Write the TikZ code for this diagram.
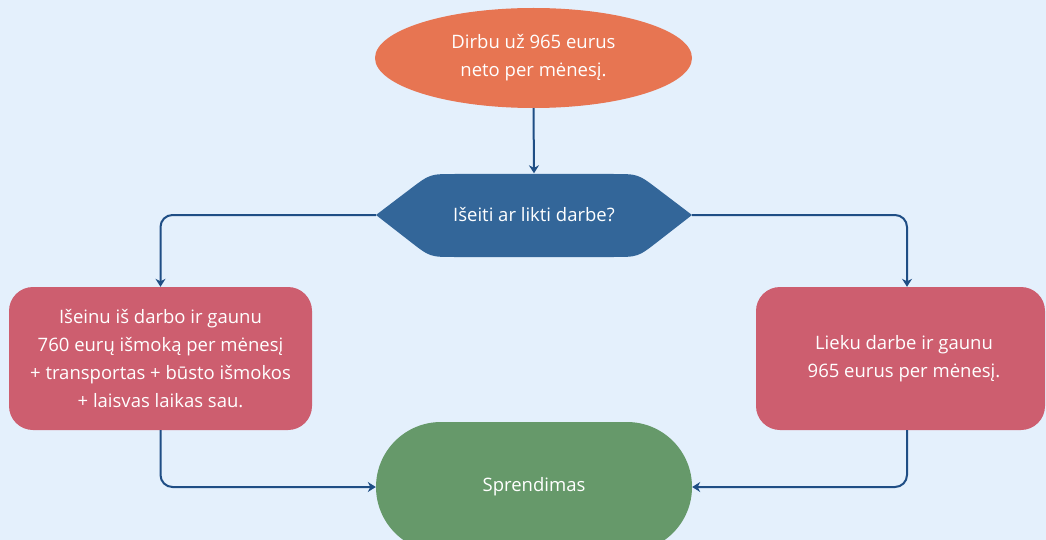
\documentclass[tikz,border=0pt]{standalone}
\usepackage{fontspec}
\setmainfont{Open Sans}
\usetikzlibrary{shapes.geometric,arrows.meta}
\definecolor{bg}{HTML}{E4F0FC}
\definecolor{orng}{HTML}{E77552}
\definecolor{hexblue}{HTML}{336699}
\definecolor{rose}{HTML}{CD5E6F}
\definecolor{grn}{HTML}{66996A}
\definecolor{linec}{HTML}{1F4E85}
\begin{document}
\begin{tikzpicture}[x=1pt,y=-1pt,
  txt/.style={text=white,font=\fontsize{18.5}{28}\selectfont,align=center},
  conn/.style={draw=linec,line width=2pt,rounded corners=12pt,-{Stealth[length=8pt,width=10pt]}},
  boxstyle/.style={txt,fill=rose,rounded corners=24pt,inner sep=0pt}]
\useasboundingbox (0,0) rectangle (1046,540);
\fill[bg] (0,0) rectangle (1046,540);
% nodes
\node[txt,ellipse,fill=orng,minimum width=317pt,minimum height=100pt,inner sep=0pt] (top) at (533.5,58) {Dirbu už 965 eurus\\neto per mėnesį.};
\fill[hexblue] (376,215) -- (410.1,189.1) .. controls (430,174) .. (455,174) -- (613,174) .. controls (638,174) .. (657.9,189.1) -- (692,215) -- (657.8,241.6) .. controls (638,257) .. (613,257) -- (455,257) .. controls (430,257) .. (410.2,241.6) -- cycle;
\node[txt,minimum width=316pt,minimum height=83pt,inner sep=0pt] (hex) at (534,215) {Išeiti ar likti darbe?};
\node[boxstyle,minimum width=303pt,minimum height=143pt] (left) at (160.5,358.5) {Išeinu iš darbo ir gaunu\\760 eurų išmoką per mėnesį\\+ transportas + būsto išmokos\\+ laisvas laikas sau.};
\node[boxstyle,minimum width=289pt,minimum height=143pt] (right) at (900.5,358.5) {\hspace*{7pt}Lieku darbe ir gaunu\\\hspace*{7pt}965 eurus per mėnesį.};
\node[txt,fill=grn,rounded corners=65pt,minimum width=316pt,minimum height=130pt,inner sep=0pt] (dec) at (534,487) {Sprendimas};
% connectors
\draw[conn] (top.south) -- (hex.north);
\draw[conn] (hex.west) -| (left.north);
\draw[conn] (hex.east) -| ([xshift=6.5pt]right.north);
\draw[conn] (left.south) |- (dec.west);
\draw[conn] ([xshift=6.5pt]right.south) |- (dec.east);
\end{tikzpicture}
\end{document}
